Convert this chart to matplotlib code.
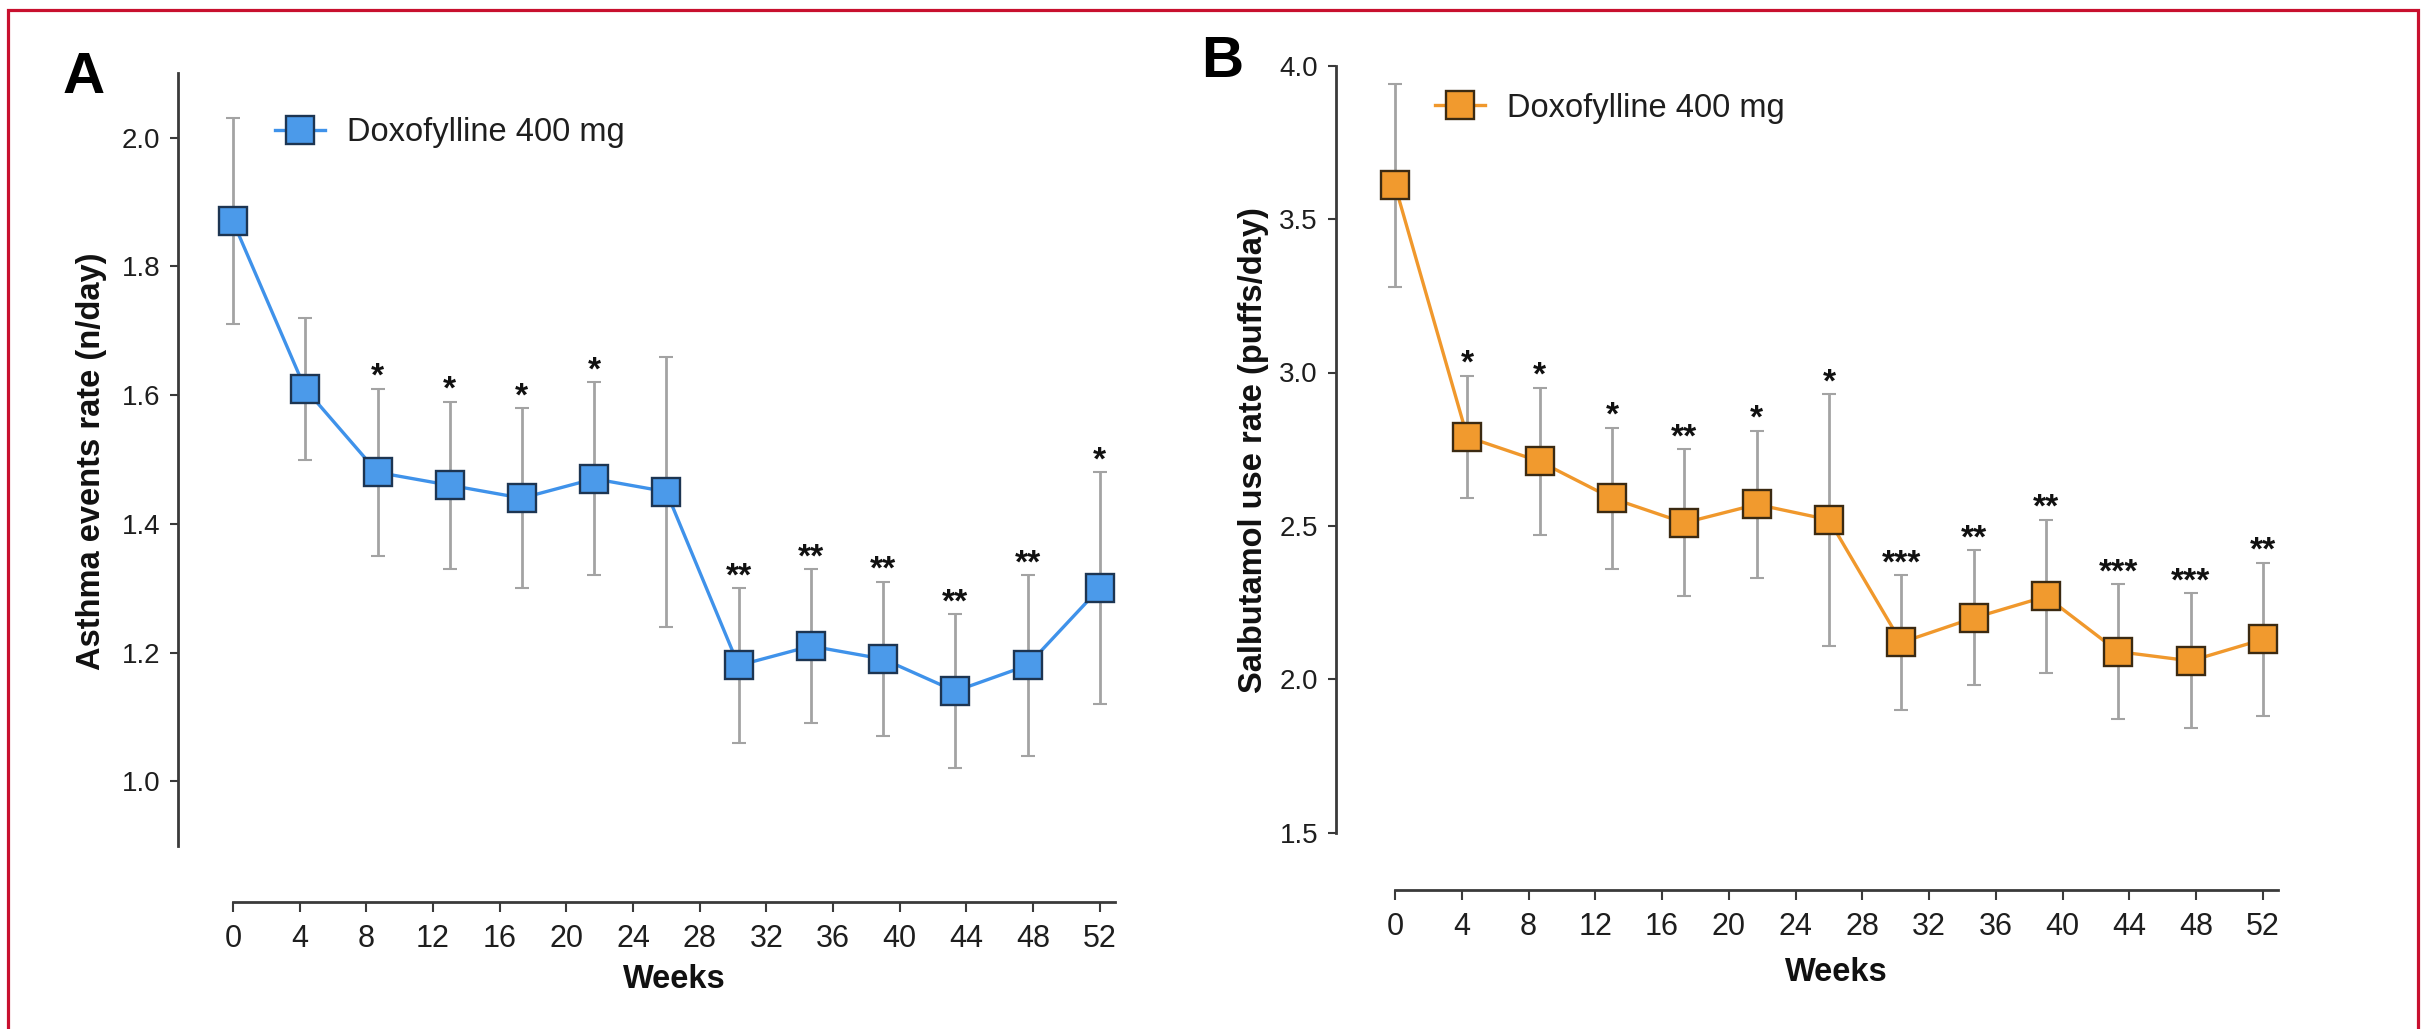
import matplotlib
matplotlib.use('Agg')
import matplotlib.pyplot as plt
from matplotlib.lines import Line2D

# ---------------- data ----------------
weeks = [0, 4.33, 8.67, 13, 17.33, 21.67, 26, 30.33, 34.67, 39, 43.33, 47.67, 52]
xticks = list(range(0, 53, 4))

asthma_mean = [1.87, 1.61, 1.48, 1.46, 1.44, 1.47, 1.45, 1.18, 1.21, 1.19, 1.14, 1.18, 1.30]
asthma_sd = [0.16, 0.11, 0.13, 0.13, 0.14, 0.15, 0.21, 0.12, 0.12, 0.12, 0.12, 0.14, 0.18]
asthma_sig = ['', '', '*', '*', '*', '*', '', '**', '**', '**', '**', '**', '*']
asthma_yticks = [1.0, 1.2, 1.4, 1.6, 1.8, 2.0]

salb_mean = [3.61, 2.79, 2.71, 2.59, 2.51, 2.57, 2.52, 2.12, 2.20, 2.27, 2.09, 2.06, 2.13]
salb_sd = [0.33, 0.20, 0.24, 0.23, 0.24, 0.24, 0.41, 0.22, 0.22, 0.25, 0.22, 0.22, 0.25]
salb_sig = ['', '*', '*', '*', '**', '*', '*', '***', '**', '**', '***', '***', '**']
salb_yticks = [1.5, 2.0, 2.5, 3.0, 3.5, 4.0]

series_label = 'Doxofylline 400 mg'

# ---------------- layout ----------------
W, H, DPI = 2424, 1029, 100
plt.rcParams['font.family'] = ['Liberation Sans', 'DejaVu Sans']

fig = plt.figure(figsize=(W / DPI, H / DPI), dpi=DPI)
fig.patch.set_facecolor('white')


def fx(px):
    return px / W


def fy(py):
    return 1 - py / H


def pt(px):
    return px * 72.0 / DPI


SPINE = '#3a3a3a'
ERR = '#a3a3a3'
TXT = '#1e1e1e'

axA = fig.add_axes([fx(233), fy(845.6), (1114.7 - 233) / W, (845.6 - 73.4) / H])
axB = fig.add_axes([fx(1395), fy(832.7), (2278 - 1395) / W, (832.7 - 65.7) / H])


def draw(ax, mean, sd, sig, yticks, ylim, line_c, face_c, edge_c,
         left_out, bottom_out, leg_xy, ylabel, ylab_xy, xlab_xy):
    ax.set_xlim(0, 52.9)
    ax.set_ylim(*ylim)
    ax.set_facecolor('none')
    for s in ['top', 'right']:
        ax.spines[s].set_visible(False)
    for s in ['left', 'bottom']:
        ax.spines[s].set_color(SPINE)
        ax.spines[s].set_linewidth(2.0)
    ax.spines['left'].set_position(('outward', pt(left_out)))
    ax.spines['bottom'].set_position(('outward', pt(bottom_out)))

    ax.set_xticks(xticks)
    ax.set_xticklabels([str(t) for t in xticks])
    ax.set_yticks(yticks)
    ax.set_yticklabels([f'{v:.1f}' for v in yticks])
    ax.tick_params(axis='y', length=pt(8), width=1.5, pad=pt(10), labelsize=20,
                   color=SPINE, labelcolor=TXT)
    ax.tick_params(axis='x', length=pt(10), width=1.5, pad=pt(12), labelsize=22,
                   color=SPINE, labelcolor=TXT)

    eb = ax.errorbar(weeks, mean, yerr=sd, fmt='none', ecolor=ERR, elinewidth=2.0,
                     capsize=4.7, capthick=1.5, zorder=2)
    for art in eb.get_children():
        art.set_clip_on(False)
    line, = ax.plot(weeks, mean, color=line_c, lw=2.4, marker='s', ms=20,
                    mfc=face_c, mec=edge_c, mew=1.7, zorder=3, clip_on=False,
                    label=series_label)

    for x, m, s, t in zip(weeks, mean, sd, sig):
        if t:
            ax.annotate(t, (x, m + s), xytext=(0, 2.0), textcoords='offset points',
                        ha='center', va='baseline', fontsize=24, fontweight='bold',
                        color='#111111', annotation_clip=False)

    ax.legend(handles=[line], loc='center left', bbox_to_anchor=(fx(leg_xy[0]), fy(leg_xy[1])),
              bbox_transform=fig.transFigure, frameon=False, borderpad=0, borderaxespad=0,
              handlelength=1.53, handletextpad=0.67, fontsize=23.5, labelcolor=TXT)

    ax.set_ylabel(ylabel, fontsize=23.5, fontweight='bold', color='#111111')
    ax.yaxis.set_label_coords(fx(ylab_xy[0]), fy(ylab_xy[1]), transform=fig.transFigure)
    ax.yaxis.label.set_va('baseline')
    ax.yaxis.label.set_ha('center')
    ax.set_xlabel('Weeks', fontsize=23.5, fontweight='bold', color='#111111')
    ax.xaxis.set_label_coords(fx(xlab_xy[0]), fy(xlab_xy[1]), transform=fig.transFigure)
    ax.xaxis.label.set_va('baseline')


draw(axA, asthma_mean, asthma_sd, asthma_sig, asthma_yticks, (0.9, 2.1),
     '#3f92ea', '#4b9aea', '#1d3552', 55, 56.4, (275, 133),
     'Asthma events rate (n/day)', (100, 461), (674, 988))
draw(axB, salb_mean, salb_sd, salb_sig, salb_yticks, (1.5, 4.0),
     '#f0982c', '#f19a2e', '#3b2a12', 59, 57.3, (1435, 108),
     'Salbutamol use rate (puffs/day)', (1262, 450), (1836, 981))

fig.text(fx(84), fy(93), 'A', fontsize=42, fontweight='bold', ha='center', va='baseline',
         color='#000000')
fig.text(fx(1222), fy(77), 'B', fontsize=42, fontweight='bold', ha='center', va='baseline',
         color='#000000')

fig.add_artist(Line2D([fx(8), fx(8), fx(2418), fx(2418)], [fy(1045), fy(10), fy(10), fy(1045)],
                      transform=fig.transFigure, color='#c8102e', lw=2.3,
                      solid_joinstyle='miter', solid_capstyle='butt'))

fig.savefig('out.png', dpi=DPI, facecolor='white')
